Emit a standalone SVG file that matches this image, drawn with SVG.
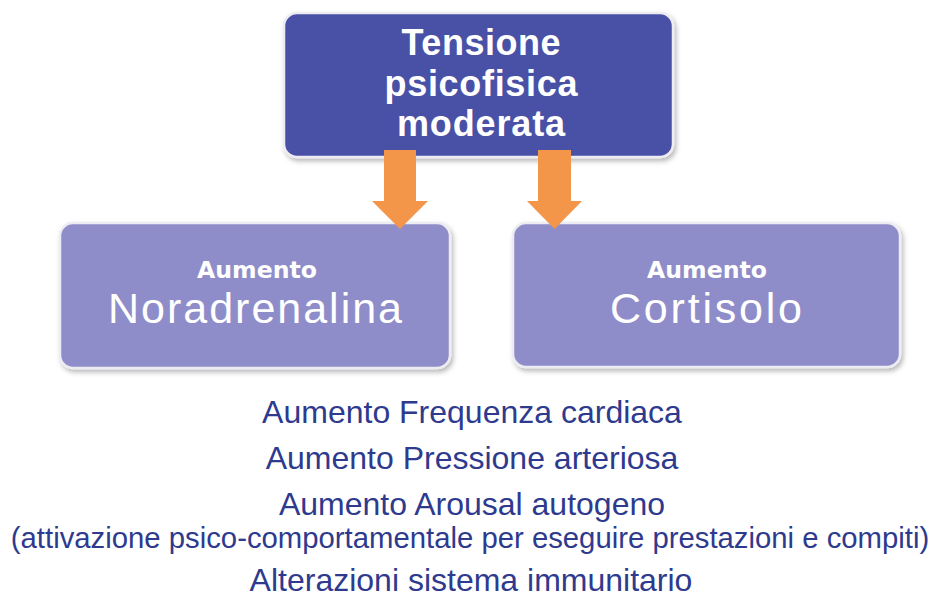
<svg xmlns="http://www.w3.org/2000/svg" width="935" height="597" viewBox="0 0 935 597">
  <defs>
    <filter id="shadow" x="-10%" y="-10%" width="125%" height="130%">
      <feDropShadow dx="2" dy="3" stdDeviation="2.5" flood-color="#000000" flood-opacity="0.28"/>
    </filter>
  </defs>
  <style>
    .box-top { fill: #4A51A6; stroke: #ECECF2; stroke-width: 2.5; }
    .box-low { fill: #8F8DC9; stroke: #ECECF2; stroke-width: 2.5; }
    .arrow { fill: #F3964A; }
    .t-top { font-family: "Liberation Sans", Arial, sans-serif; font-weight: bold; font-size: 36px; fill: #FFFFFF; text-anchor: middle; }
    .t-small { font-family: "DejaVu Sans", Verdana, sans-serif; font-weight: bold; font-size: 22.5px; fill: #FFFFFF; text-anchor: middle; }
    .t-big { font-family: "Liberation Sans", Arial, sans-serif; font-size: 43px; fill: #FFFFFF; text-anchor: middle; }
    .t-list { font-family: "Liberation Sans", Arial, sans-serif; font-size: 32px; fill: #2E3A8E; text-anchor: middle; }
    .t-sub { font-family: "Liberation Sans", Arial, sans-serif; font-size: 29.3px; fill: #2E3A8E; text-anchor: middle; }
  </style>

  <g id="node-tensione">
    <rect class="box-top" x="284" y="13" width="389" height="144" rx="13" ry="13" filter="url(#shadow)"/>
    <text class="t-top" x="481" y="55" textLength="159" lengthAdjust="spacing">Tensione</text>
    <text class="t-top" x="481" y="96" textLength="193" lengthAdjust="spacing">psicofisica</text>
    <text class="t-top" x="481" y="136" textLength="168" lengthAdjust="spacing">moderata</text>
  </g>

  <g id="node-noradrenalina">
    <rect class="box-low" x="60" y="223" width="390" height="145" rx="13" ry="13" filter="url(#shadow)"/>
    <text class="t-small" x="257" y="278" textLength="120" lengthAdjust="spacingAndGlyphs">Aumento</text>
    <text class="t-big" x="255" y="323" textLength="294" lengthAdjust="spacing">Noradrenalina</text>
  </g>

  <g id="node-cortisolo">
    <rect class="box-low" x="513" y="223" width="387" height="144" rx="13" ry="13" filter="url(#shadow)"/>
    <text class="t-small" x="707" y="278" textLength="120" lengthAdjust="spacingAndGlyphs">Aumento</text>
    <text class="t-big" x="706" y="323" textLength="192" lengthAdjust="spacing">Cortisolo</text>
  </g>

  <g id="connectors">
    <polygon class="arrow" points="384,150 416,150 416,201 428,201 400,229 372,201 384,201"/>
    <polygon class="arrow" points="538,150 571,150 571,201 582,201 554.5,229 527,201 538,201"/>
  </g>

  <g id="effects">
    <text class="t-list" x="472" y="423">Aumento Frequenza cardiaca</text>
    <text class="t-list" x="472" y="469">Aumento Pressione arteriosa</text>
    <text class="t-list" x="472" y="515">Aumento Arousal autogeno</text>
    <text class="t-sub" x="470" y="548">(attivazione psico-comportamentale per eseguire prestazioni e compiti)</text>
    <text class="t-list" x="471" y="591">Alterazioni sistema immunitario</text>
  </g>
</svg>
